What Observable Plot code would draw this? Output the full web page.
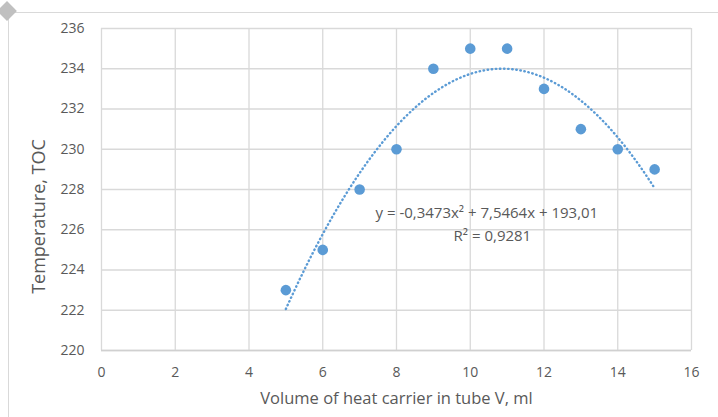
<!DOCTYPE html>
<html>
<head>
<meta charset="utf-8">
<script src="https://cdn.jsdelivr.net/npm/d3@7"></script>
<script src="https://cdn.jsdelivr.net/npm/@observablehq/plot@0.6"></script>
<style>
  html, body { margin: 0; padding: 0; background: #fff; }
  #wrap { position: relative; width: 718px; height: 417px; overflow: hidden; }
  #frame { position: absolute; left: 8px; top: 12px; width: 720px; height: 420px;
           border-top: 1.5px solid #d9d9d9; border-left: 1.5px solid #d9d9d9; }
  #handle { position: absolute; left: 0px; top: 4px; width: 14px; height: 14px;
            background: #c0c0c0; transform: rotate(45deg); }
  svg { font-family: "Open Sans", Lato, sans-serif; }
</style>
</head>
<body>
<div id="wrap"><div id="frame"></div><div id="handle"></div></div>
<script>
// data
const volume = [5, 6, 7, 8, 9, 10, 11, 12, 13, 14, 15];
const temperature = [223, 225, 228, 230, 234, 235, 235, 233, 231, 230, 229];
// polynomial trendline coefficients shown on the chart: a*x^2 + b*x + c
const trendCoef = [-0.3473, 7.5464, 193.01];
const xTicks = [0, 2, 4, 6, 8, 10, 12, 14, 16];
const yTicks = [220, 222, 224, 226, 228, 230, 232, 234, 236];
const equationLines = ["y = -0,3473x² + 7,5464x + 193,01", "R² = 0,9281"];
const xTitle = "Volume of heat carrier in tube V, ml";
const yTitle = "Temperature, TOC";

const points = volume.map((v, i) => ({v, t: temperature[i]}));
const trend = d3.range(volume[0], volume[volume.length - 1] + 0.001, 0.1)
  .map(x => ({v: x, t: trendCoef[0] * x * x + trendCoef[1] * x + trendCoef[2]}));

const textColor = "#595959";
const grid = "#d9d9d9";

const chart = Plot.plot({
  width: 718,
  height: 417,
  marginLeft: 101,
  marginRight: 27,
  marginTop: 28,
  marginBottom: 67,
  x: {domain: [0, 16]},
  y: {domain: [220, 236]},
  style: {fontSize: "14px", color: textColor, background: "transparent"},
  marks: [
    Plot.gridX(xTicks, {stroke: grid, strokeOpacity: 1, strokeWidth: 1.3}),
    Plot.gridY(yTicks, {stroke: grid, strokeOpacity: 1, strokeWidth: 1.3}),
    Plot.ruleY([220], {stroke: "#d0d0d0", strokeWidth: 1.5}),
    Plot.axisX({ticks: xTicks, tickSize: 0, tickPadding: 17, label: null, fill: textColor, fontSize: 14}),
    Plot.axisY({ticks: yTicks, tickSize: 0, tickPadding: 17, label: null, fill: textColor, fontSize: 14}),
    Plot.line(trend, {x: "v", y: "t", stroke: "#5b9bd5", strokeWidth: 2.4, strokeDasharray: "0.5 3.6", strokeLinecap: "round"}),
    Plot.dot(points, {x: "v", y: "t", r: 5.3, fill: "#5b9bd5", stroke: "none"}),
    Plot.text([equationLines[0]], {x: 10.45, y: 226.8, fill: textColor, fontSize: 15}),
    Plot.text([equationLines[1]], {x: 10.6, y: 225.7, fill: textColor, fontSize: 15}),
    Plot.text([xTitle], {frameAnchor: "bottom", dy: 53, fill: textColor, fontSize: 16.5}),
    Plot.text([yTitle], {frameAnchor: "left", textAnchor: "middle", dx: -62, dy: 27, rotate: -90, fill: textColor, fontSize: 18})
  ]
});
document.getElementById("wrap").prepend(chart);
chart.style.position = "absolute";
chart.style.left = "0";
chart.style.top = "0";
</script>
</body>
</html>
